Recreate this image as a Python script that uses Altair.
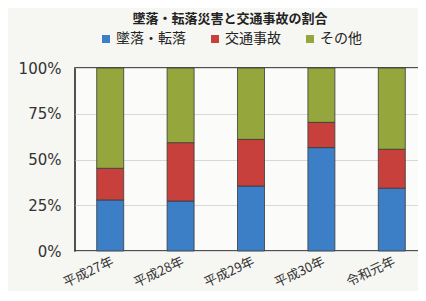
import altair as alt
import pandas as pd

years = ["平成27年", "平成28年", "平成29年", "平成30年", "令和元年"]
series = ["墜落・転落", "交通事故", "その他"]
fall = [27.9, 27.3, 35.5, 56.5, 34.3]
traffic = [17.3, 31.9, 25.5, 13.8, 21.3]
other = [54.8, 40.8, 39.0, 29.7, 44.4]
colors = ["#3d7fc6", "#c8403c", "#95a63c"]
title_text = "墜落・転落災害と交通事故の割合"

rows = []
for i, yr in enumerate(years):
    for k, (s, vals) in enumerate(zip(series, [fall, traffic, other])):
        rows.append({"year": yr, "series": s, "value": vals[i] / 100, "order": k})
df = pd.DataFrame(rows)

JP = "Noto Sans CJK JP"

bars = alt.Chart(df).mark_bar(size=27, stroke="#3a3a3a", strokeWidth=0.8).encode(
    x=alt.X("year:N", sort=years, title=None,
            scale=alt.Scale(paddingInner=0.6, paddingOuter=0.3),
            axis=alt.Axis(labelAngle=335, labelAlign="right", labelBaseline="top",
                          labelFont=JP, labelFontSize=13, labelColor="#333",
                          labelPadding=4, ticks=False, domain=False)),
    y=alt.Y("value:Q", stack="zero", title=None,
            scale=alt.Scale(domain=[0, 1]),
            axis=alt.Axis(format="%", values=[0, 0.25, 0.5, 0.75, 1],
                          labelFont="DejaVu Sans", labelFontSize=15, labelColor="#333",
                          labelPadding=14, ticks=False, domain=False,
                          grid=True, gridColor="#d8d8d8", gridWidth=1)),
    color=alt.Color("series:N", sort=series,
                    scale=alt.Scale(domain=series, range=colors),
                    legend=alt.Legend(orient="none", direction="horizontal",
                                      legendX=24, legendY=-36, title=None,
                                      symbolType="square", symbolSize=64,
                                      symbolStrokeWidth=0,
                                      labelFont=JP, labelFontSize=14, labelColor="#222",
                                      columnPadding=22, labelOffset=3)),
    order=alt.Order("order:Q"),
)

chart = bars.properties(
    width=352, height=183,
    title=alt.TitleParams(title_text, font=JP, fontSize=13, fontWeight="bold",
                          color="#222", anchor="middle", dx=-21, offset=6),
    autosize=alt.AutoSizeParams(type="none"),
    padding={"left": 67, "top": 60, "right": -9, "bottom": 40},
    background="#f6f6f2",
).configure_view(stroke="#1a1a1a", strokeWidth=1.5, fill="#fbfbf9")

chart.save("out.html", embed_options={"renderer": "svg", "actions": False})
